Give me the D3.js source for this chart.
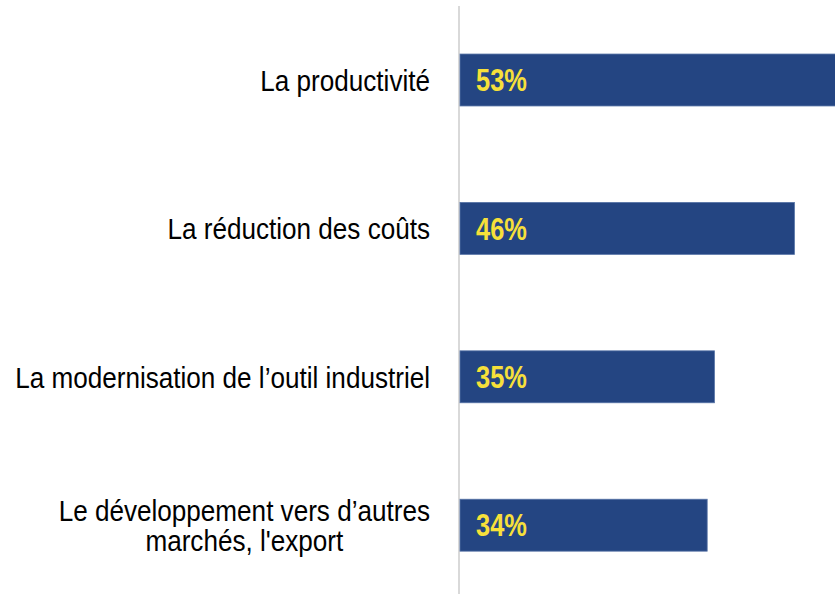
<!DOCTYPE html>
<meta charset="utf-8">
<style>
  body { margin: 0; background: #fff; }
  .cat text {
    font-family: "Liberation Sans", Arial, sans-serif;
    font-size: 30px;
    fill: #000;
  }
  .val text {
    font-family: "Liberation Sans", Arial, sans-serif;
    font-weight: bold;
    font-size: 31px;
    fill: #f7e03a;
  }
</style>
<svg width="835" height="594"></svg>
<script src="https://cdn.jsdelivr.net/npm/d3@7"></script>
<script>
  var categories = [
    ["La productivité"],
    ["La réduction des coûts"],
    ["La modernisation de l\u2019outil industriel"],
    ["Le développement vers d\u2019autres", "marchés, l'export"]
  ];
  var values = [53, 46, 35, 34];
  var valueLabels = ["53%", "46%", "35%", "34%"];

  var svg = d3.select("svg"),
    width = +svg.attr("width"),
    height = +svg.attr("height");

  var x0 = 460;
  var x = d3.scaleLinear().domain([0, 100]).range([x0, x0 + 727]);

  var y = d3.scaleBand()
    .domain(d3.range(values.length))
    .range([5.8, 599.4])
    .paddingInner(0.65)
    .paddingOuter(0.325);

  // axis line
  svg.append("line")
    .attr("x1", x0 - 1).attr("x2", x0 - 1)
    .attr("y1", 6).attr("y2", height)
    .attr("stroke", "#d9d9d9")
    .attr("stroke-width", 2);

  // bars
  svg.append("g")
    .selectAll("rect")
    .data(values)
    .enter().append("rect")
    .attr("x", x(0))
    .attr("y", function(d, i) { return y(i); })
    .attr("width", function(d) { return x(d) - x(0); })
    .attr("height", y.bandwidth())
    .attr("fill", "#244582")
    .attr("stroke", "#5673a6")
    .attr("stroke-width", 0.8);

  // value labels (condensed look)
  svg.append("g").attr("class", "val")
    .selectAll("text")
    .data(valueLabels)
    .enter().append("text")
    .attr("transform", function(d, i) {
      return "translate(" + (x0 + 16) + "," + (y(i) + y.bandwidth() / 2) + ") scale(0.82,1)";
    })
    .attr("dy", "0.36em")
    .text(function(d) { return d; });

  // category labels
  var cat = svg.append("g").attr("class", "cat")
    .selectAll("g")
    .data(categories)
    .enter().append("g")
    .attr("transform", function(d, i) {
      return "translate(430," + (y(i) + y.bandwidth() / 2) + ") scale(0.87,1)";
    });

  cat.each(function(lines) {
    var t = d3.select(this).append("text").attr("text-anchor", "middle");
    var lh = 30;
    lines.forEach(function(l, j) {
      t.append("tspan")
        .attr("x", 0)
        .attr("y", (j - (lines.length - 1) / 2) * lh)
        .attr("dy", "0.36em")
        .text(l);
    });
    // right-align the block, lines centered inside it
    var w = t.node().getBBox().width;
    t.selectAll("tspan").attr("x", -w / 2);
  });
</script>
